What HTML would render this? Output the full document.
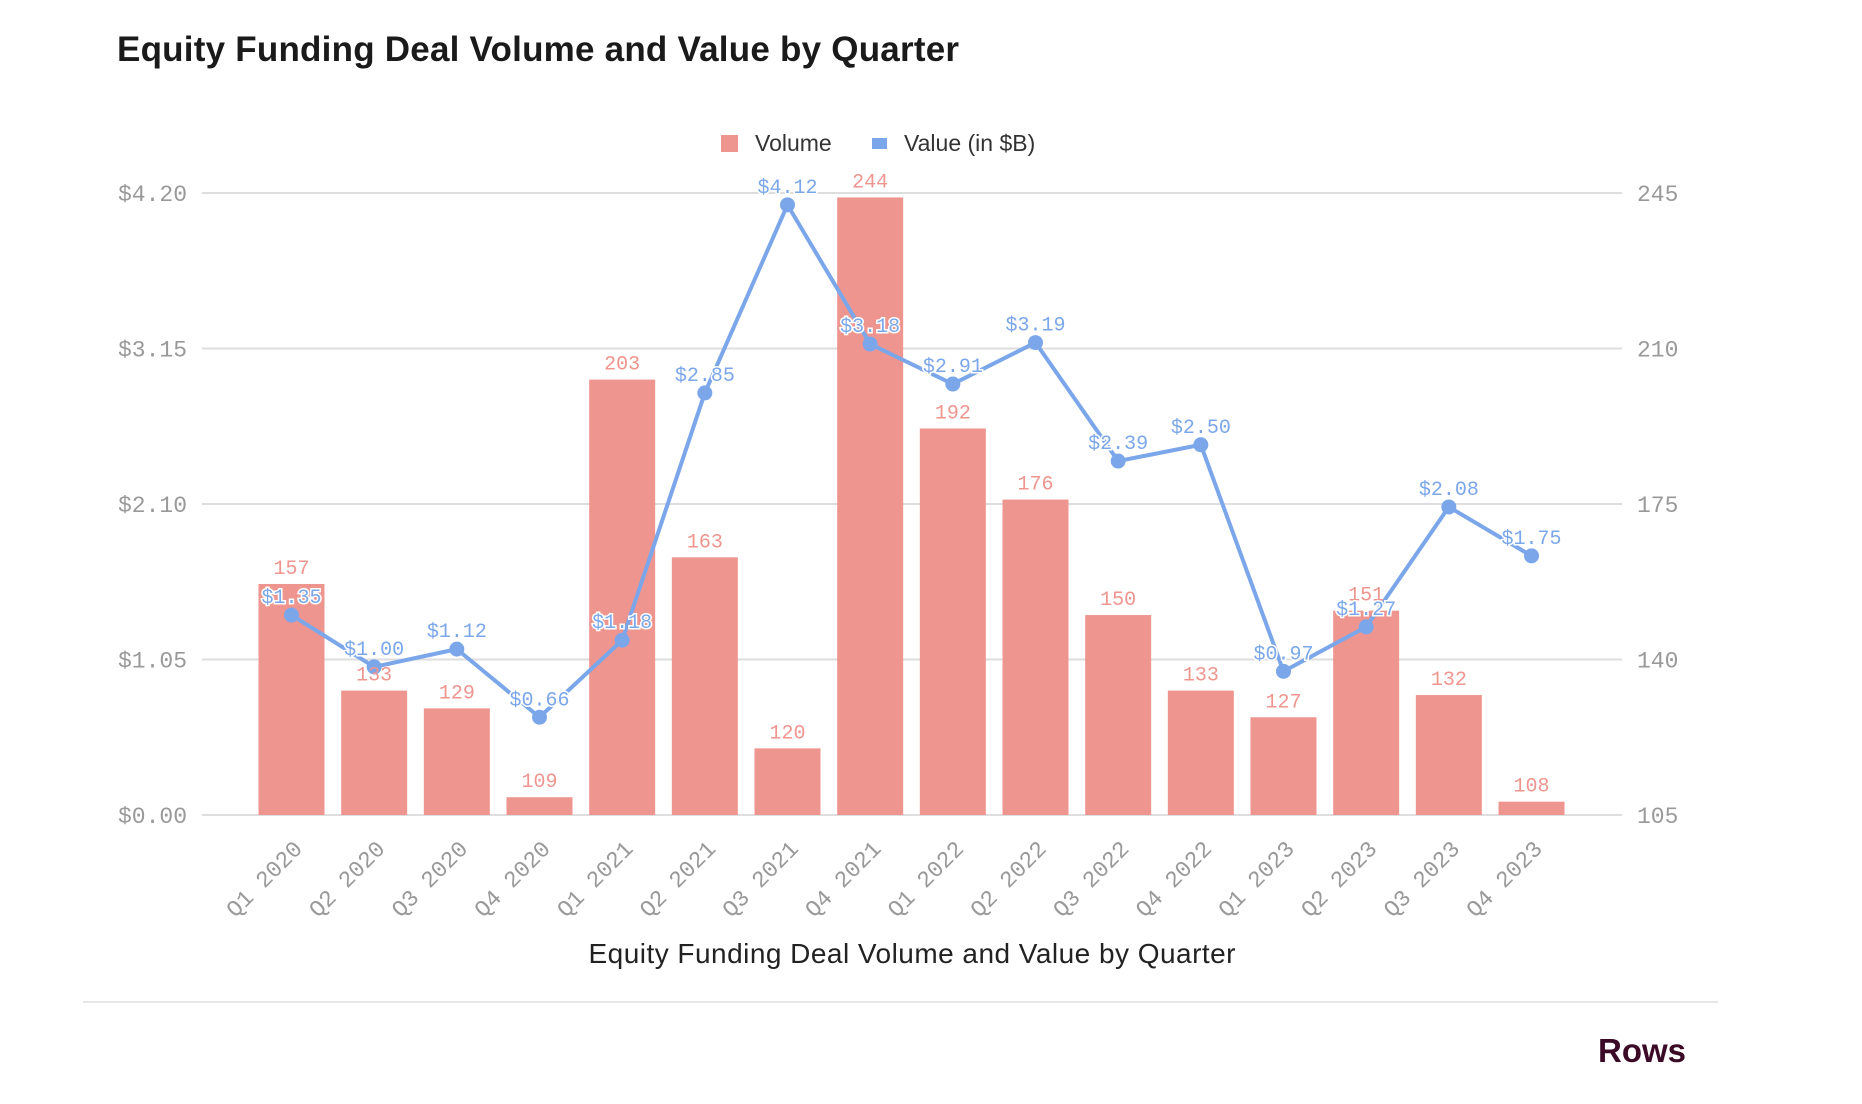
<!DOCTYPE html>
<html><head><meta charset="utf-8"><style>
body{margin:0;background:#fff;}
svg{display:block;}
</style></head><body>
<svg id="chart" width="1862" height="1104">
<text x="117" y="61" font-family="Liberation Sans, sans-serif" font-weight="bold" font-size="35" textLength="842" fill="#1a1a1a">Equity Funding Deal Volume and Value by Quarter</text>
<g>
<rect x="721" y="135" width="17" height="17" fill="#ef958f"/>
<text x="755" y="151" font-family="Liberation Sans, sans-serif" font-size="23" fill="#333">Volume</text>
<rect x="872" y="138" width="15" height="11" fill="#7ba7ea"/>
<text x="904" y="151" font-family="Liberation Sans, sans-serif" font-size="23" fill="#333">Value (in $B)</text>
</g>
<g id="grid"></g><g id="bars"></g><g id="line"></g><g id="labels"></g>
<text x="912" y="963" text-anchor="middle" font-family="Liberation Sans, sans-serif" font-size="28" textLength="647" fill="#222">Equity Funding Deal Volume and Value by Quarter</text>
<line x1="83" y1="1002" x2="1718" y2="1002" stroke="#e6e6e6" stroke-width="2"/>
<text x="1686" y="1062" text-anchor="end" font-family="Liberation Sans, sans-serif" font-weight="bold" font-size="33" fill="#3a0a26">Rows</text>
</svg>
<script>
const categories=["Q1 2020","Q2 2020","Q3 2020","Q4 2020","Q1 2021","Q2 2021","Q3 2021","Q4 2021","Q1 2022","Q2 2022","Q3 2022","Q4 2022","Q1 2023","Q2 2023","Q3 2023","Q4 2023"];
const volumes=[157,133,129,109,203,163,120,244,192,176,150,133,127,151,132,108];
const values=[1.35,1.00,1.12,0.66,1.18,2.85,4.12,3.18,2.91,3.19,2.39,2.50,0.97,1.27,2.08,1.75];
const leftTicks=[0,1.05,2.10,3.15,4.20];
const rightTicks=[105,140,175,210,245];
const NS="http://www.w3.org/2000/svg";
const X0=202,X1=1622,Y0=815,Y1=193;
const step=(1531.5-291.5)/15;
function xc(i){return 291.5+i*step;}
function yL(v){return Y0-(v-0)/(4.2-0)*(Y0-Y1);}
function yR(v){return Y0-(v-105)/(245-105)*(Y0-Y1);}
function mk(t,a,p){const e=document.createElementNS(NS,t);for(const k in a)e.setAttribute(k,a[k]);p.appendChild(e);return e;}
const grid=document.getElementById('grid'),bars=document.getElementById('bars'),line=document.getElementById('line'),labels=document.getElementById('labels');
const mono="Liberation Mono, monospace";
leftTicks.forEach((t,i)=>{
 const g=mk('line',{x1:X0,x2:X1,y1:yL(t),y2:yL(t),stroke:'#dedede','stroke-width':2},grid);
 
 
 const l=mk('text',{x:187,y:yL(t)+8,'text-anchor':'end','font-family':mono,'font-size':23,fill:'#999'},grid);
 l.textContent='$'+t.toFixed(2);
 
 
 const r=mk('text',{x:1637,y:yR(rightTicks[i])+8,'font-family':mono,'font-size':23,fill:'#999'},grid);
 r.textContent=rightTicks[i];
 
 
});
categories.forEach((c,i)=>{
 const y=yR(volumes[i]);
 const b=mk('rect',{x:xc(i)-33,y:y,width:66,height:Y0-y,fill:'#ef958f'},bars);
 
 
 const t=mk('text',{x:xc(i),y:y-10,'text-anchor':'middle','font-family':mono,'font-size':20,fill:'#ef958f'},labels);
 t.textContent=volumes[i];
 
 
 const xl=mk('text',{x:0,y:0,'text-anchor':'end','font-family':mono,'font-size':23,fill:'#999',transform:`translate(${xc(i)+12},${850}) rotate(-45)`},labels);
 xl.textContent=c;
 
 
});
const pts=values.map((v,i)=>xc(i)+','+yL(v)).join(' ');
const pl=mk('polyline',{points:pts,fill:'none',stroke:'#7ba7ea','stroke-width':4,'stroke-linejoin':'round'},line);


values.forEach((v,i)=>{
 const c=mk('circle',{cx:xc(i),cy:yL(v),r:7.5,fill:'#7ba7ea'},line);
 
 
 const t=mk('text',{x:xc(i),y:yL(v)-12,'text-anchor':'middle','font-family':mono,'font-size':20,fill:'#7ba7ea',stroke:'#fff','stroke-width':3,'paint-order':'stroke'},labels);
 t.textContent='$'+v.toFixed(2);
 
 
});
</script>
</body></html>
